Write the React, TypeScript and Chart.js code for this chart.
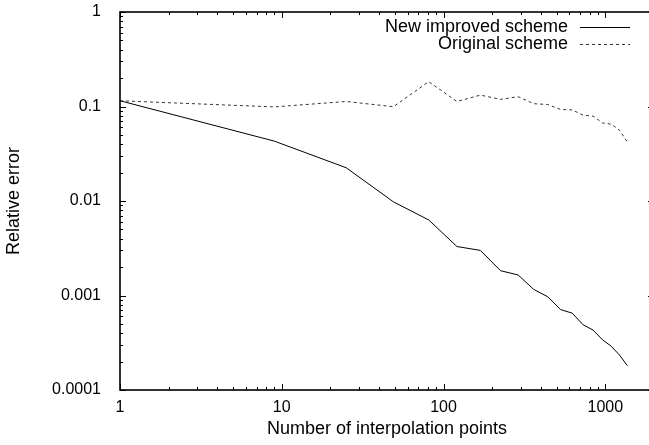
import React, { useEffect, useRef } from "react";
import { Chart, registerables } from "chart.js";

Chart.register(...registerables);

// ---- Data ----
const xPoints = [1, 9, 25, 49, 81, 121, 169, 225, 289, 361, 441, 529, 625, 729, 841, 961, 1089, 1225, 1369];
const newScheme = [0.115, 0.043, 0.0225, 0.0098, 0.0063, 0.0033, 0.003, 0.00183, 0.00165, 0.00116, 0.00097, 0.00071, 0.00065, 0.00049, 0.00043, 0.00034, 0.00029, 0.000234, 0.000181];
const originalScheme = [0.115, 0.099, 0.113, 0.0995, 0.183, 0.113, 0.132, 0.119, 0.127, 0.107, 0.105, 0.093, 0.092, 0.081, 0.079, 0.067, 0.065, 0.056, 0.042];
const seriesLabels = ["New improved scheme", "Original scheme"];
const xTickLabels = ["1", "10", "100", "1000"];
const yTickLabels = ["0.0001", "0.001", "0.01", "0.1", "1"];
const xTitle = "Number of interpolation points";
const yTitle = "Relative error";
const X_MIN = 1;
const X_MAX = 2000;
const Y_MIN = 0.0001;
const Y_MAX = 1;

const FONT = "'Liberation Sans', Arial, Helvetica, sans-serif";

const framePlugin = {
  id: "gnuFrame",
  afterDatasetsDraw(chart: any) {
    const { ctx, chartArea: a, scales } = chart;
    const xs = scales.x;
    const ys = scales.y;
    ctx.save();
    ctx.strokeStyle = "#000";
    ctx.lineWidth = 1;
    const major = 6;
    const minor = 3;
    ctx.beginPath();
    for (let d = 0; d <= 4; d++) {
      for (let m = 1; m <= 9; m++) {
        const v = m * Math.pow(10, d);
        if (v < X_MIN || v > X_MAX) continue;
        const px = Math.round(xs.getPixelForValue(v)) + 0.5;
        const len = m === 1 ? major : minor;
        ctx.moveTo(px, a.bottom);
        ctx.lineTo(px, a.bottom - len);
        ctx.moveTo(px, a.top);
        ctx.lineTo(px, a.top + len);
      }
    }
    for (let d = -4; d <= 0; d++) {
      for (let m = 1; m <= 9; m++) {
        const v = m * Math.pow(10, d);
        if (v < Y_MIN * 0.999 || v > Y_MAX * 1.001) continue;
        const py = Math.round(ys.getPixelForValue(v)) + 0.5;
        const len = m === 1 ? major : minor;
        ctx.moveTo(a.left, py);
        ctx.lineTo(a.left + len, py);
        if (m === 1) {
          ctx.moveTo(a.right, py);
          ctx.lineTo(a.right - len, py);
        }
      }
    }
    ctx.stroke();
    ctx.lineWidth = 1.6;
    ctx.strokeRect(a.left, a.top, a.right - a.left, a.bottom - a.top);

    // legend (gnuplot style: text, then line sample)
    ctx.font = "18px " + FONT;
    ctx.fillStyle = "#000";
    ctx.textAlign = "right";
    ctx.textBaseline = "middle";
    const textRight = a.right - 86;
    const lineStart = a.right - 74;
    const lineEnd = a.right - 24;
    chart.data.datasets.forEach((ds: any, i: number) => {
      const y = a.top + 15 + i * 17;
      ctx.fillText(ds.label, textRight, y);
      ctx.beginPath();
      ctx.lineWidth = 1;
      ctx.strokeStyle = ds.borderColor;
      ctx.setLineDash(ds.borderDash || []);
      ctx.moveTo(lineStart, y + 0.5);
      ctx.lineTo(lineEnd, y + 0.5);
      ctx.stroke();
      ctx.setLineDash([]);
    });
    ctx.restore();
  },
};

function zeroPad(s: any) {
  s.paddingTop = 0;
  s.paddingBottom = 0;
  s.paddingLeft = 0;
  s.paddingRight = 0;
}

export default function App() {
  const ref = useRef<HTMLCanvasElement | null>(null);
  useEffect(() => {
    if (!ref.current) return;
    Chart.defaults.font.family = FONT;
    const chart = new Chart(ref.current, {
      type: "scatter",
      data: {
        datasets: [
          {
            label: seriesLabels[0],
            data: xPoints.map((x, i) => ({ x, y: newScheme[i] })),
            showLine: true,
            borderColor: "#000",
            borderWidth: 1,
            pointRadius: 0,
            fill: false,
          },
          {
            label: seriesLabels[1],
            data: xPoints.map((x, i) => ({ x, y: originalScheme[i] })),
            showLine: true,
            borderColor: "#333",
            borderWidth: 1,
            borderDash: [3, 3],
            pointRadius: 0,
            fill: false,
          },
        ],
      },
      options: {
        animation: false,
        responsive: false,
        maintainAspectRatio: false,
        layout: { padding: { left: 0, top: 12, right: 6, bottom: 0 } },
        plugins: { legend: { display: false }, tooltip: { enabled: false } },
        scales: {
          x: {
            type: "logarithmic",
            min: X_MIN,
            max: X_MAX,
            grid: { display: false, drawTicks: false },
            border: { display: false },
            afterBuildTicks: (s: any) => {
              s.ticks = xTickLabels.map((t) => ({ value: Number(t) }));
            },
            afterFit: (s: any) => {
              s.height = 55;
              zeroPad(s);
            },
            ticks: {
              autoSkip: false,
              maxRotation: 0,
              padding: 8,
              color: "#000",
              font: { size: 16 },
              callback: (v: any) => {
                const idx = xTickLabels.findIndex((t) => Number(t) === Number(v));
                return idx >= 0 ? xTickLabels[idx] : "";
              },
            },
            title: {
              display: true,
              text: xTitle,
              color: "#000",
              font: { size: 18 },
              padding: { top: 0, bottom: 5 },
            },
          },
          y: {
            type: "logarithmic",
            min: Y_MIN,
            max: Y_MAX,
            grid: { display: false, drawTicks: false },
            border: { display: false },
            afterBuildTicks: (s: any) => {
              s.ticks = yTickLabels.map((t) => ({ value: Number(t) }));
            },
            afterFit: (s: any) => {
              s.width = 120;
              zeroPad(s);
            },
            ticks: {
              autoSkip: false,
              padding: 19,
              color: "#000",
              font: { size: 16 },
              callback: (v: any) => {
                const idx = yTickLabels.findIndex((t) => Math.abs(Number(t) - Number(v)) < Number(t) * 1e-6);
                return idx >= 0 ? yTickLabels[idx] : "";
              },
            },
            title: {
              display: true,
              text: yTitle,
              color: "#000",
              font: { size: 18 },
              padding: { top: 3, bottom: 0 },
            },
          },
        },
      },
      plugins: [framePlugin],
    });
    return () => chart.destroy();
  }, []);

  return (
    <div
      style={{
        position: "absolute",
        left: 0,
        top: 0,
        width: 649,
        height: 445,
        overflow: "hidden",
        background: "#fff",
      }}
    >
      <canvas ref={ref} width={660} height={445} style={{ display: "block" }} />
    </div>
  );
}
